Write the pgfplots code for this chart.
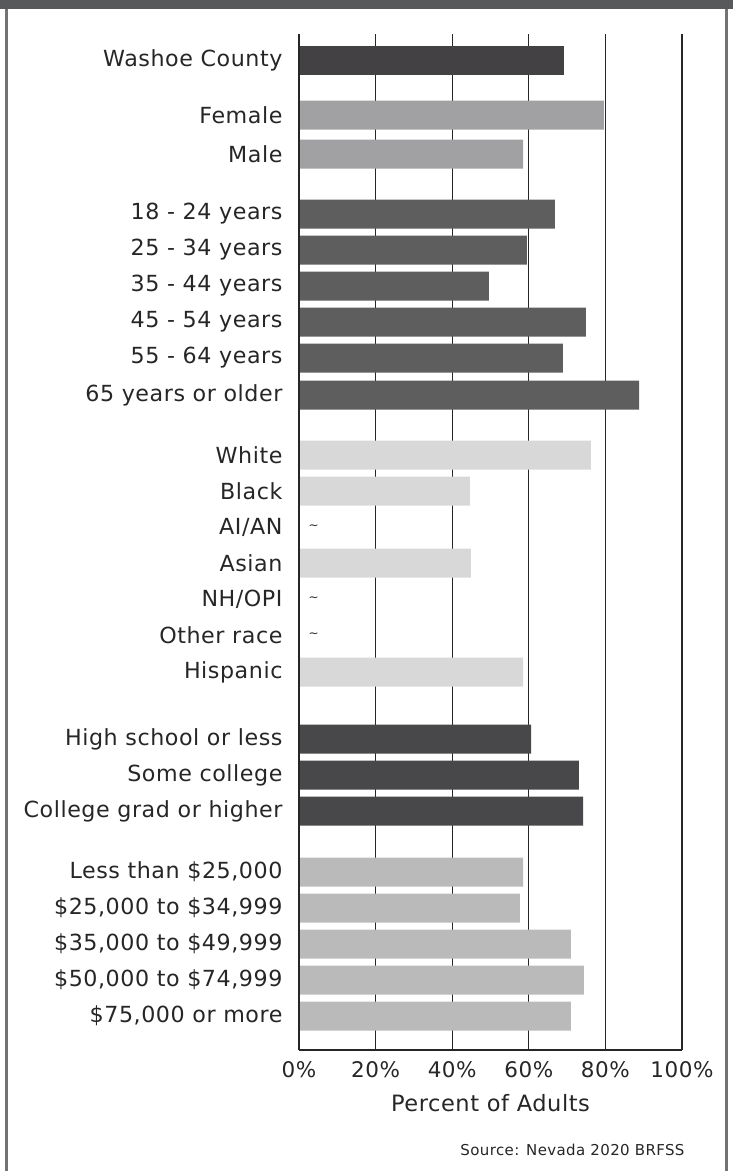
\documentclass[border=0pt]{standalone}
\usepackage{fontspec}
\setmainfont[LetterSpace=2.5]{DejaVu Sans}
\usepackage{pgfplots}
\pgfplotsset{compat=1.18}
\definecolor{frame}{HTML}{58595B}
\definecolor{cWashoe}{HTML}{434143}
\definecolor{cSex}{HTML}{A1A1A3}
\definecolor{cAge}{HTML}{5F5E5F}
\definecolor{cRace}{HTML}{D8D8D8}
\definecolor{cEdu}{HTML}{48474A}
\definecolor{cInc}{HTML}{BABABA}
\begin{document}
\begin{tikzpicture}[x=1pt,y=1pt]
\useasboundingbox (0,0) rectangle (733,-1171);
\fill[frame] (0,0) rectangle (733,-9);
\draw[frame!85,line width=2.5pt] (6.5,-9) -- (6.5,-1171);
\draw[frame!85,line width=2.5pt] (726.5,-9) -- (726.5,-1171);
\begin{axis}[
  at={(299pt,-1050pt)}, anchor=south west,
  scale only axis, width=383pt, height=1016pt,
  xmin=0, xmax=100, ymin=34, ymax=1050, y dir=reverse,
  xbar, bar shift=0pt, bar width=29,
  axis lines*=left,
  axis line style={line width=2.2pt, black!85},
  xtick={0,20,40,60,80,100},
  xticklabels={0\%,20\%,40\%,60\%,80\%,100\%},
  xmajorgrids, grid style={line width=1.1pt, black!85},
  major tick length=0pt,
  ytick={60,115,154,214,250,286,322,358,395,455,491,527,563,599,635,672,739,775,811,872,908,944,980,1016},
  yticklabels={Washoe County,Female,Male,18 - 24 years,25 - 34 years,35 - 44 years,45 - 54 years,55 - 64 years,65 years or older,White,Black,AI/AN,Asian,NH/OPI,Other race,Hispanic,High school or less,Some college,College grad or higher,{Less than \$25,000},{\$25,000 to \$34,999},{\$35,000 to \$49,999},{\$50,000 to \$74,999},{\$75,000 or more}},
  tick label style={font=\fontsize{21.5}{24}\selectfont, text=black!85},
  yticklabel style={xshift=-13pt, font=\fontsize{22.2}{24}\selectfont},
  xticklabel style={yshift=-8pt},
  /pgf/number format/assume math mode=true,
  xlabel={Percent of Adults},
  xlabel style={font=\fontsize{22.5}{25}\selectfont, text=black!85, yshift=-10pt},
  clip=false,
]
\addplot[fill=cWashoe, draw=none] coordinates {(69.2,60)};
\addplot[fill=cSex, draw=none] coordinates {(79.6,115) (58.5,154)};
\addplot[fill=cAge, draw=none] coordinates {(66.8,214) (59.5,250) (49.6,286) (74.9,322) (68.9,358) (88.8,395)};
\addplot[fill=cRace, draw=none] coordinates {(76.2,455) (44.6,491) (44.9,563) (58.5,672)};
\addplot[fill=cEdu, draw=none] coordinates {(60.6,739) (73.1,775) (74.2,811)};
\addplot[fill=cInc, draw=none] coordinates {(58.5,872) (57.7,908) (71.0,944) (74.4,980) (71.0,1016)};
\draw[line width=2.2pt, black!85] (axis cs:100,34) -- (axis cs:100,1050);
\draw[line width=2.2pt, black!85] (axis cs:0,34) -- (axis cs:0,1050);
\node[font=\fontsize{12}{12}\selectfont, text=black!85] at (axis cs:3.8,527) {\textasciitilde};
\node[font=\fontsize{12}{12}\selectfont, text=black!85] at (axis cs:3.8,599) {\textasciitilde};
\node[font=\fontsize{12}{12}\selectfont, text=black!85] at (axis cs:3.8,635) {\textasciitilde};
\end{axis}
\node[anchor=east, font=\fontsize{15}{17}\selectfont, text=black!85] at (688,-1150) {Source: Nevada 2020 BRFSS};
\end{tikzpicture}
\end{document}
